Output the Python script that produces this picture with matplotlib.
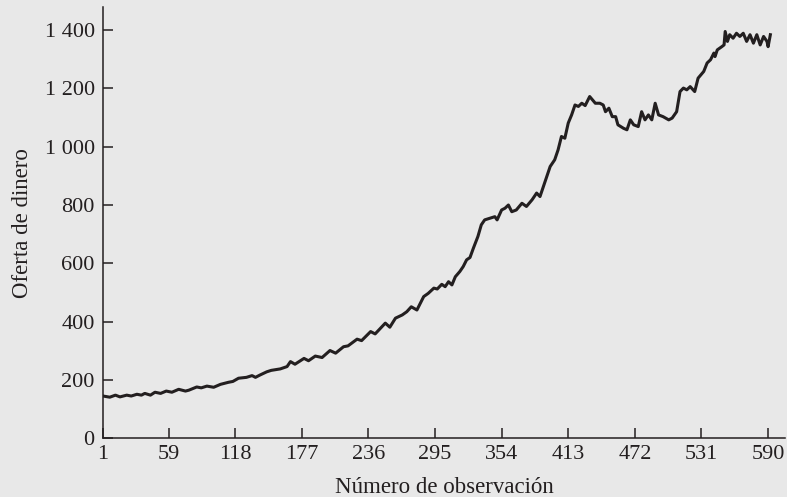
import matplotlib.pyplot as plt
from matplotlib.ticker import FuncFormatter

# valores (número de observación, oferta de dinero)
obs = [1, 7, 12, 16, 22, 26, 31, 35, 38, 43, 47, 52, 57, 62, 68, 74, 77, 84, 88, 93,
       99, 105, 112, 116, 121, 128, 133, 136, 140, 146, 150,
       158, 164, 167, 171, 179, 183, 189, 195, 202, 207, 214, 218, 226, 230, 238,
       242, 251, 255, 260, 266, 270, 274, 279, 285, 289, 294,
       297, 301, 304, 307, 310, 313, 317, 320, 323, 326, 329, 333, 336, 339, 344,
       348, 350, 354, 357, 360, 363, 367, 372, 376, 381, 385, 388, 391, 394, 397,
       401, 404, 407, 410, 413, 416, 419, 422, 425, 428, 432, 437, 441,
       444, 446, 449, 452, 455, 457, 462, 465, 468, 471, 475, 478, 481, 484, 487,
       490, 493, 497, 502, 505, 509, 512, 515, 518, 521, 525, 528, 533, 536, 539,
       542, 543, 545, 549, 551, 552, 554, 556, 559, 562, 565, 568, 571, 574, 577,
       580, 583, 586, 589, 590, 592]
oferta = [145, 141, 148, 142, 148, 145, 151, 148, 154, 148, 158, 154, 162, 158, 168,
          162, 165, 176, 173, 179, 175, 185, 192, 195, 206, 209, 215, 209, 217, 228, 233,
          238, 246, 263, 254, 274, 266, 282, 277, 301, 292, 314, 317, 340, 335, 366,
          358, 395, 381, 412, 423, 434, 451, 440, 486, 497, 515,
          512, 528, 520, 537, 526, 554, 572, 589, 612, 620, 652, 692, 732, 749, 755,
          760, 749, 783, 789, 800, 777, 783, 806, 795, 818, 841, 829, 863, 897, 932,
          955, 989, 1035, 1029, 1081, 1109, 1143, 1138, 1149, 1141, 1172, 1149, 1149,
          1143, 1120, 1132, 1103, 1103, 1075, 1063, 1058, 1092, 1075, 1069, 1120, 1092,
          1109, 1092, 1149, 1109, 1103, 1092, 1098, 1120, 1189, 1201, 1195, 1206, 1189,
          1235, 1258, 1287, 1298, 1321, 1309, 1332, 1343, 1349, 1395, 1361, 1384, 1372,
          1389, 1378, 1389, 1361, 1384, 1355, 1384, 1349, 1378, 1361, 1343, 1384]

xticks = [1, 59, 118, 177, 236, 295, 354, 413, 472, 531, 590]
yticks = [0, 200, 400, 600, 800, 1000, 1200, 1400]

bg = '#e8e8e8'
ink = '#231f20'

plt.rcParams['font.family'] = ['Liberation Serif', 'DejaVu Serif']

fig = plt.figure(figsize=(7.87, 4.97), dpi=100, facecolor=bg)
ax = fig.add_axes([0.1309, 0.1181, 0.8666, 0.8678])
ax.set_facecolor(bg)

ax.plot(obs, oferta, color=ink, lw=2.2, solid_joinstyle='round')

ax.set_xlim(1, 605)
ax.set_ylim(0, 1479)
ax.set_xticks(xticks)
ax.set_yticks(yticks)
ax.yaxis.set_major_formatter(FuncFormatter(lambda v, p: f'{int(v):,}'.replace(',', ' ')))

for s in ['top', 'right']:
    ax.spines[s].set_visible(False)
for s in ['left', 'bottom']:
    ax.spines[s].set_color(ink)
    ax.spines[s].set_linewidth(1.1)

ax.tick_params(direction='in', length=7.5, width=1.1, color=ink,
               labelsize=16, labelcolor=ink)
ax.tick_params(axis='y', pad=6)
ax.tick_params(axis='x', pad=5)

ax.set_xlabel('Número de observación', fontsize=16.5, color=ink, labelpad=9)
ax.set_ylabel('Oferta de dinero', fontsize=16.5, color=ink, labelpad=8)

fig.savefig('out.png', dpi=100, facecolor=bg)
